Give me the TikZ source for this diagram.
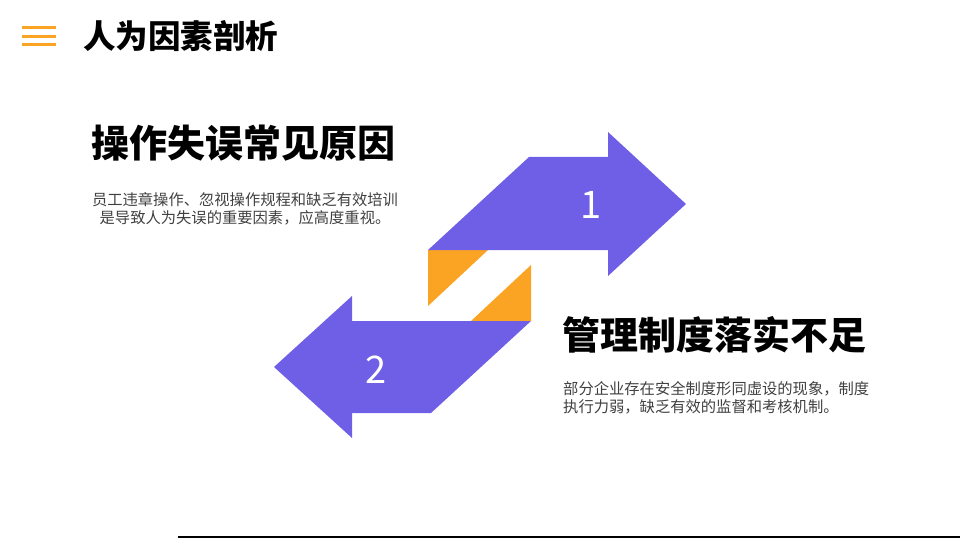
\documentclass[tikz,border=0pt]{standalone}
\usepackage{fontspec}
\setmainfont{Noto Sans CJK SC}
\usepackage{tikz}
\definecolor{arrowblue}{HTML}{6E5FE6}
\definecolor{accent}{HTML}{FBA323}
\definecolor{bodygray}{HTML}{404040}
\begin{document}
\begin{tikzpicture}[x=1pt, y=-1pt,
    heading/.style={font=\fontsize{38}{42}\selectfont\bfseries, inner sep=0pt},
    desc/.style={font=\fontsize{15.3}{18.5}\selectfont, text=bodygray, inner sep=0pt},
    numlabel/.style={font=\fontsize{38}{42}\selectfont, text=white}]
    \useasboundingbox (0,0) rectangle (960,540);
    % Menu icon and title
    \foreach \y in {28, 36.5, 45} {
        \draw[accent, line width=3pt] (22,\y) -- (56,\y);
    }
    \node[anchor=west, inner sep=0pt, font=\fontsize{32.5}{36}\selectfont\bfseries] (title) at (83,36) {人为因素剖析};
    % Arrow 1 with its orange fold
    \fill[accent] (428,250) -- (488,250) -- (428,306) -- cycle;
    \fill[arrowblue] (428,250) -- (529,157) -- (608,157) -- (608,132) -- (686,204)
        -- (608,276) -- (608,250) -- cycle;
    \node[numlabel] (one) at (591,205) {1};
    % Arrow 2 with its orange fold
    \fill[accent] (531,321) -- (471,321) -- (531,265) -- cycle;
    \fill[arrowblue] (531,321) -- (431,413) -- (352,413) -- (352,438) -- (274,367)
        -- (352,296) -- (352,321) -- cycle;
    \node[numlabel] (two) at (376,370) {2};
    % Text blocks
    \node[heading, anchor=west] (cause) at (91,143) {操作失误常见原因};
    \node[desc, align=center] (causetext) at (245,209) {员工违章操作、忽视操作规程和缺乏有效培训\\是导致人为失误的重要因素，应高度重视。};
    \node[heading, anchor=west] (rules) at (562,335) {管理制度落实不足};
    \node[desc, align=left, anchor=north west] (rulestext) at (563,381) {部分企业存在安全制度形同虚设的现象，制度\\执行力弱，缺乏有效的监督和考核机制。};
    % Bottom rule
    \draw[line width=2pt] (178,537) -- (960,537);
\end{tikzpicture}
\end{document}
